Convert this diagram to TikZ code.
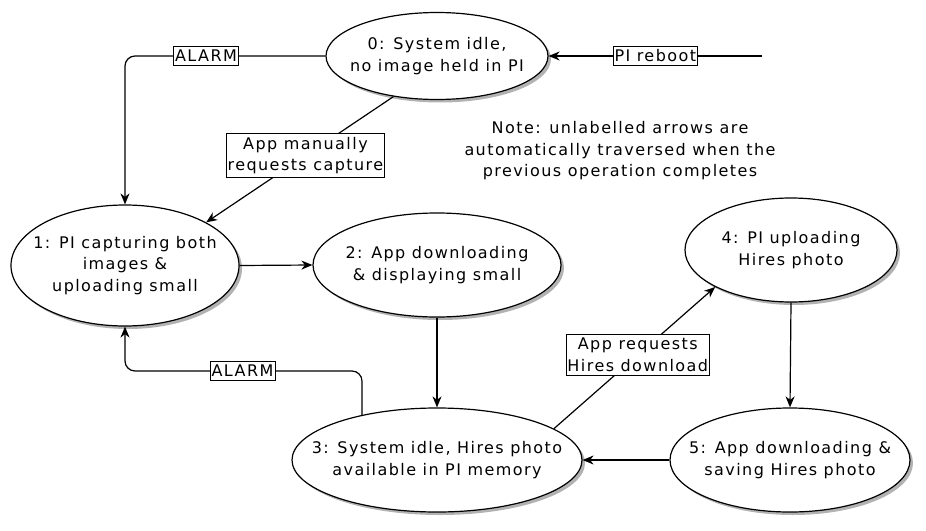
\documentclass[tikz,border=0pt]{standalone}
\usepackage{fontspec}
\setmainfont{DejaVu Sans}[LetterSpace=9]
\usetikzlibrary{arrows.meta,shapes.geometric,shadows}
\begin{document}
\begin{tikzpicture}[x=1pt,y=-1pt,
  state/.style={ellipse, draw, line width=1.2pt, fill=white, inner sep=0pt,
    drop shadow={shadow xshift=3pt, shadow yshift=-3pt, opacity=0.3, fill=black}},
  txt/.style={align=center, font=\fontsize{16}{21.5}\selectfont, inner sep=0pt},
  lbl/.style={draw, fill=white, line width=0.9pt, sharp corners, inner xsep=1.5pt,
    inner ysep=3.5pt, align=center, font=\fontsize{16}{21.5}\selectfont},
  arr/.style={line width=1.2pt, -{Stealth[length=11pt,width=9pt,inset=3.5pt]}},
  ln/.style={line width=1.2pt}]
\useasboundingbox (0,0) rectangle (926,530);
% states
\node[state, minimum width=222pt, minimum height=87pt] (e0) at (437,56) {};
\node[state, minimum width=228pt, minimum height=121pt] (e1) at (125,265.5) {};
\node[state, minimum width=248pt, minimum height=104pt] (e2) at (437,265) {};
\node[state, minimum width=290pt, minimum height=104pt] (e3) at (437,460) {};
\node[state, minimum width=212pt, minimum height=104pt] (e4) at (791,250) {};
\node[state, minimum width=240pt, minimum height=104pt] (e5) at (790,460) {};
% texts
\node[txt] (t0) at (e0) {0: System idle,\\no image held in PI};
\node[txt] (t1) at (e1) {1: PI capturing both\\images \&\\uploading small};
\node[txt] (t2) at (e2) {2: App downloading\\\& displaying small};
\node[txt] (t3) at (e3) {3: System idle, Hires photo\\available in PI memory};
\node[txt] (t4) at (e4) {4: PI uploading\\Hires photo};
\node[txt] (t5) at (e5) {5: App downloading \&\\saving Hires photo};
\node[txt] (note) at (620,151) {Note: unlabelled arrows are\\automatically traversed when the\\previous operation completes};
% connectors
\coordinate (rb) at (762,56);
\draw[arr] (rb) -- node[lbl, midway] (lrb) {PI reboot} (e0.east);
\draw[arr, rounded corners=10pt] (e0.west) -| node[lbl, pos=0.298] (la1) {ALARM} (e1.north);
\draw[arr] (e0.223.6) -- node[lbl, pos=0.47] (lman) {App manually\\requests capture} (e1.28.5);
\draw[arr] (e1.east) -- (e2.west);
\draw[arr] (e2.south) -- (e3.north);
\coordinate (c3) at (125,371);
\draw[arr, rounded corners=10pt] (e3.149.8) |- node[lbl, pos=0.752] (la2) {ALARM} (c3) -- (e1.south);
\draw[arr] (e3.15.4) -- node[lbl, pos=0.52] (lhr) {App requests\\Hires download} (e4.206.6);
\draw[arr] (e4.south) -- (e5.north);
\draw[arr] (e5.west) -- (e3.east);
\end{tikzpicture}
\end{document}
